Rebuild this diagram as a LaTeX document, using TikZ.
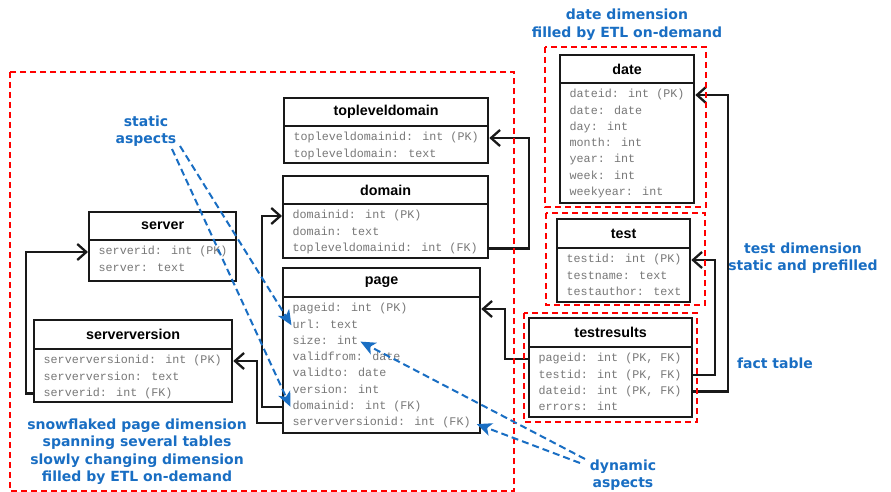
\documentclass[tikz,border=0pt]{standalone}
\usepackage{fontspec}
\usetikzlibrary{arrows.meta,calc}
\newfontfamily\bluefont{DejaVu Sans}
\newfontfamily\hdrfont{Liberation Sans}
\newfontfamily\rowfont{Liberation Mono}
\definecolor{annblue}{RGB}{25,110,195}
\definecolor{rowgray}{RGB}{120,120,120}
\tikzset{
 hdr/.style={draw=black!90, line width=2.3pt, fill=white, inner sep=0pt, font=\hdrfont\bfseries\fontsize{14.3}{16}\selectfont},
 bdy/.style={draw=black!90, line width=2.3pt, fill=white, inner sep=0pt},
 rowtxt/.style={inner sep=0pt, anchor=west, text=rowgray, text height=8pt, text depth=2.5pt, font=\rowfont\fontsize{11.7}{13}\selectfont},
 fk/.style={draw=black!90, line width=2.3pt, -{Straight Barb[length=9pt,width=16pt,line width=2.3pt]}},
 region/.style={draw=red, line width=2pt, dash pattern=on 6pt off 4pt},
 ann/.style={text=annblue, align=center, font=\bluefont\bfseries\fontsize{14}{17.5}\selectfont, inner sep=0pt},
 annarrow/.style={draw=annblue, line width=2pt, dash pattern=on 7pt off 4pt, -{Stealth[length=15pt,width=13pt,inset=4pt]}},
}
\newcommand\ertable[8]{%
 \node[hdr, anchor=north west, minimum width={#4-#2}, minimum height={#5-#3}] (#1H) at (#2,#3) {#7};
 \node[bdy, anchor=north west, minimum width={#4-#2}, minimum height={#6-#5}] (#1B) at (#2,#5) {};
 \foreach \t [count=\i] in {#8} {\node[rowtxt] (#1-\i) at ({#2+10.5},{#5+13+16.3*(\i-1)}) {\t};}
}
\begin{document}
\begin{tikzpicture}[x=1pt,y=-1pt]
\useasboundingbox (0,0) rectangle (891,492);
\fill[white] (0,0) rectangle (891,492);

\ertable{tld}{283}{97}{487}{125}{162}{topleveldomain}{topleveldomainid: int (PK), topleveldomain: text}
\ertable{domain}{282}{175}{487}{203}{257}{domain}{domainid: int (PK), domain: text, topleveldomainid: int (FK)}
\ertable{page}{282}{267}{479}{296}{432}{page}{pageid: int (PK), url: text, size: int, validfrom: date, validto: date, version: int, domainid: int (FK), serverversionid: int (FK)}
\ertable{server}{88}{211}{235}{239}{280}{server}{serverid: int (PK), server: text}
\ertable{sv}{33}{319}{231}{348}{401}{serverversion}{serverversionid: int (PK), serverversion: text, serverid: int (FK)}
\ertable{date}{559}{54}{693}{82}{202}{date}{dateid: int (PK), date: date, day: int, month: int, year: int, week: int, weekyear: int}
\ertable{test}{556}{218}{689}{247}{301}{test}{testid: int (PK), testname: text, testauthor: text}
\ertable{tr}{528}{317}{691}{346}{416}{testresults}{{pageid: int (PK, FK)}, {testid: int (PK, FK)}, {dateid: int (PK, FK)}, errors: int}

\draw[fk] (domainB.east |- domain-3) -- ++(40,0) |- (tldB.east |- tld-1);
\draw[fk] (pageB.west |- page-7) -- ++(-20,0) |- (domainB.west |- domain-1);
\draw[fk] (pageB.west |- page-8) -- ++(-25,0) |- (svB.east |- sv-1);
\draw[fk] (svB.west |- sv-3) -- ++(-7,0) |- (serverB.west |- server-1);
\draw[fk] (trB.west |- tr-1) -- ++(-23,0) |- (pageB.east |- page-1);
\draw[fk] (trB.east |- tr-2) -- ++(22,0) |- (testB.east |- test-1);
\draw[fk] (trB.east |- tr-3) -- ++(35,0) |- (dateB.east |- date-1);

\draw[region] (10,72) rectangle (514,491);
\draw[region] (545,47) rectangle (706,207);
\draw[region] (546,213) rectangle (705,305);
\draw[region] (524,313) rectangle (697,422);

\node[ann] (lblstatic) at (146,131) {static\\aspects};
\node[ann] (lbldate) at (627,24.5) {date dimension\\filled by ETL on-demand};
\node[ann] (lbltest) at (803,258) {test dimension\\static and prefilled};
\node[ann] (lblfact) at (775,363) {fact table};
\node[ann] (lblsnow) at (137,451.5) {snowflaked page dimension\\spanning several tables\\slowly changing dimension\\filled by ETL on-demand};
\node[ann] (lbldyn) at (623,475) {dynamic\\aspects};

\coordinate (s1) at (172,149);
\coordinate (s2) at (180,146);
\coordinate (d1) at (585,459);
\coordinate (d2) at (580,463);
\draw[annarrow] (s2) -- ([xshift=-1pt]page-2.west);
\draw[annarrow] (s1) -- ([xshift=-2pt]page-7.west);
\draw[annarrow] (d1) -- ([xshift=2pt]page-3.east);
\draw[annarrow] (d2) -- ([xshift=6pt,yshift=-1pt]page-8.east);
\end{tikzpicture}
\end{document}
